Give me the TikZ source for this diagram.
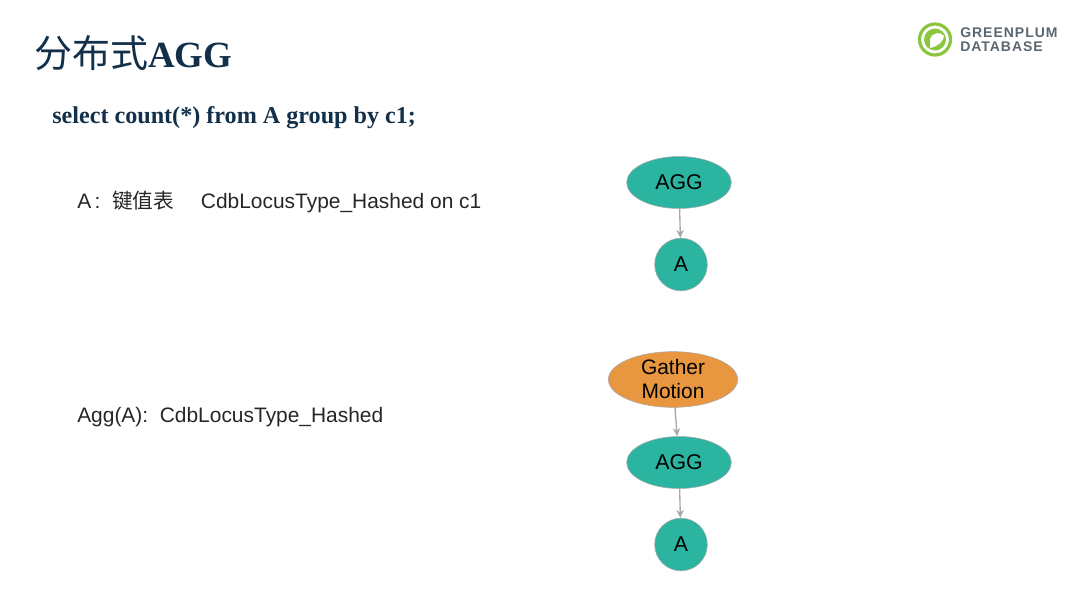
\documentclass[tikz,border=0pt]{standalone}
\usepackage{fontspec}
\setmainfont{Liberation Serif}
\setsansfont{Liberation Sans}
\newfontfamily\cjk{Noto Sans CJK SC}
\newfontfamily\brandfont[LetterSpace=7]{Liberation Sans}
\usetikzlibrary{shapes,arrows,arrows.meta}
\definecolor{navy}{HTML}{12304A}
\definecolor{teal}{HTML}{2BB5A0}
\definecolor{amber}{HTML}{E8963F}
\definecolor{edge}{HTML}{A9A7AB}
\definecolor{leaf}{HTML}{8CC63F}
\definecolor{slate}{HTML}{5C6670}
\tikzstyle{heading} = [inner sep=0pt, anchor=west, text=navy, font=\bfseries\fontsize{27.7}{30}\selectfont]
\tikzstyle{query} = [inner sep=0pt, anchor=west, text=navy, font=\bfseries\fontsize{18.1}{20}\selectfont]
\tikzstyle{note} = [inner sep=0pt, anchor=west, text=black!85, font=\sffamily\fontsize{15.7}{18}\selectfont]
\tikzstyle{brand} = [inner sep=0pt, anchor=west, text=slate, font=\brandfont\bfseries\fontsize{10.5}{11}\selectfont]
\tikzstyle{agg} = [ellipse, draw=edge, fill=teal, inner sep=0pt, minimum width=78.5pt, minimum height=39pt, font=\sffamily\fontsize{16}{18}\selectfont]
\tikzstyle{scan} = [circle, draw=edge, fill=teal, inner sep=0pt, minimum size=39.5pt, font=\sffamily\fontsize{16}{18}\selectfont]
\tikzstyle{motion} = [ellipse, draw=edge, fill=amber, inner sep=0pt, minimum width=97pt, minimum height=40pt, align=center, font=\sffamily\fontsize{15.7}{18}\selectfont]
\tikzstyle{arrow} = [draw=edge, line width=1pt, -{Stealth[length=6pt,width=5.5pt]}]

\begin{document}
\begin{tikzpicture}[x=0.75pt, y=-0.75pt, node distance = 61.5pt]
    \useasboundingbox (0,0) rectangle (1080,607);
    % Place texts
    \node [heading] (title) at (34,53) {{\cjk\fontsize{28.5}{30}\selectfont\mdseries 分布式}AGG};
    \node [query] (sql) at (52,118) {select count(*) from A group by c1;};
    \node [note] (table) at (77,202) {A\,:\ \ {\cjk\fontsize{15.5}{18}\selectfont 键值表}\quad\ CdbLocusType\_Hashed on c1};
    \node [note] (locus) at (77,417) {Agg(A):\ \ CdbLocusType\_Hashed};

    % Place nodes
    \node [agg] (agg1) at (679,182.5) {AGG};
    \node [scan, below of=agg1, xshift=1.5pt] (a1) {A};
    \node [motion] (gather) at (673,379.5) {Gather\\Motion};
    \node [agg] (agg2) at (679,462.5) {AGG};
    \node [scan, below of=agg2, xshift=1.5pt] (a2) {A};

    \draw [arrow] (agg1) -- (a1);
    \draw [arrow] (gather) -- (agg2);
    \draw [arrow] (agg2) -- (a2);

    % Logo
    \draw [leaf, line width=2.4pt] (935,39.5) circle (15.5);
    \fill [leaf] (935,39.5) circle (11);
    \fill [white] (930,48) -- (930,39) .. controls (931,33) and (941,31) .. (944,36) .. controls (944,41) and (937,47) .. (930,48) -- cycle;
    \node [brand] (brand1) at (960,32.5) {GREENPLUM};
    \node [brand] (brand2) at (960,46.5) {DATABASE};
\end{tikzpicture}
\end{document}
